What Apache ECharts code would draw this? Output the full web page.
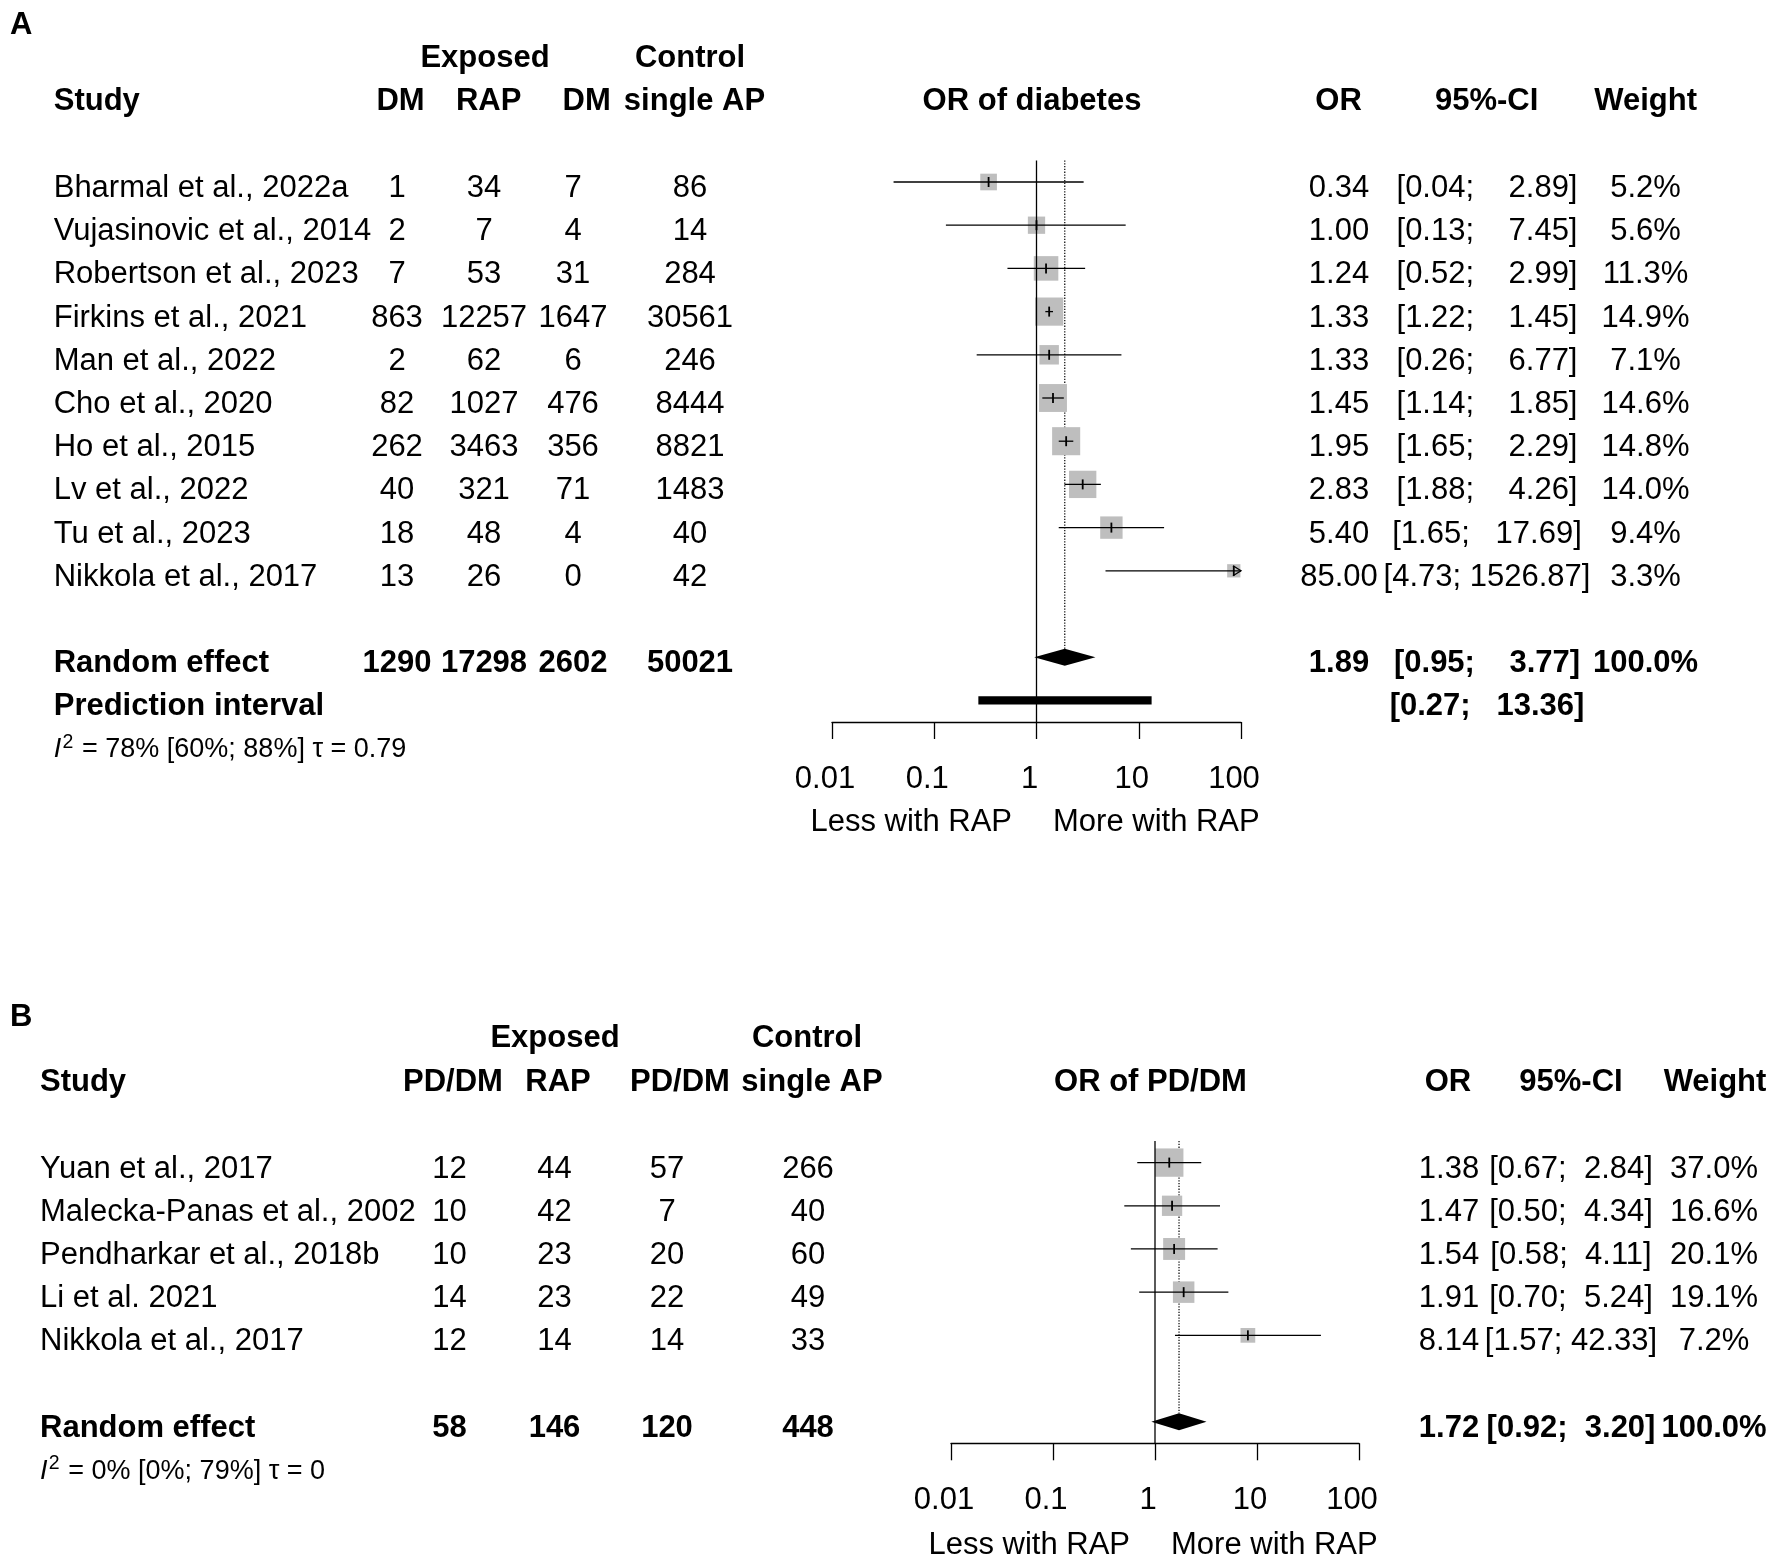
<!DOCTYPE html>
<html><head><meta charset="utf-8">
<script src="https://cdn.jsdelivr.net/npm/echarts@6/dist/echarts.min.js"></script>
<style>html,body{margin:0;padding:0;background:#fff}#c{width:1772px;height:1558px}</style>
</head><body><div id="c"></div>
<script>
// ---------------- DATA (panel A: diabetes) ----------------
const studiesA = ['Bharmal et al., 2022a','Vujasinovic et al., 2014','Robertson et al., 2023','Firkins et al., 2021','Man et al., 2022','Cho et al., 2020','Ho et al., 2015','Lv et al., 2022','Tu et al., 2023','Nikkola et al., 2017'];
const expEventsA = [1, 2, 7, 863, 2, 82, 262, 40, 18, 13];
const expTotalA  = [34, 7, 53, 12257, 62, 1027, 3463, 321, 48, 26];
const ctrlEventsA = [7, 4, 31, 1647, 6, 476, 356, 71, 4, 0];
const ctrlTotalA  = [86, 14, 284, 30561, 246, 8444, 8821, 1483, 40, 42];
const orA = [0.34, 1.00, 1.24, 1.33, 1.33, 1.45, 1.95, 2.83, 5.40, 85.00];
const loA = [0.04, 0.13, 0.52, 1.22, 0.26, 1.14, 1.65, 1.88, 1.65, 4.73];
const hiA = [2.89, 7.45, 2.99, 1.45, 6.77, 1.85, 2.29, 4.26, 17.69, 1526.87];
const weightA = [5.2, 5.6, 11.3, 14.9, 7.1, 14.6, 14.8, 14.0, 9.4, 3.3];
const pooledA = [1.89, 0.95, 3.77];
const totalsA = [1290, 17298, 2602, 50021];
const predA = [0.27, 13.36];
const hetA = ' = 78% [60%; 88%] \u03c4 = 0.79';

// ---------------- DATA (panel B: PD/DM) ----------------
const studiesB = ['Yuan et al., 2017','Malecka-Panas et al., 2002','Pendharkar et al., 2018b','Li et al. 2021','Nikkola et al., 2017'];
const expEventsB = [12, 10, 10, 14, 12];
const expTotalB  = [44, 42, 23, 23, 14];
const ctrlEventsB = [57, 7, 20, 22, 14];
const ctrlTotalB  = [266, 40, 60, 49, 33];
const orB = [1.38, 1.47, 1.54, 1.91, 8.14];
const loB = [0.67, 0.50, 0.58, 0.70, 1.57];
const hiB = [2.84, 4.34, 4.11, 5.24, 42.33];
const weightB = [37.0, 16.6, 20.1, 19.1, 7.2];
const pooledB = [1.72, 0.92, 3.20];
const totalsB = [58, 146, 120, 448];
const hetB = ' = 0% [0%; 79%] \u03c4 = 0';

const tickLabels = ['0.01', '0.1', '1', '10', '100'];
const headA = ['Study', 'DM', 'RAP', 'DM', 'single AP', 'OR of diabetes', 'OR', '95%-CI', 'Weight'];
const headB = ['Study', 'PD/DM', 'RAP', 'PD/DM', 'single AP', 'OR of PD/DM', 'OR', '95%-CI', 'Weight'];
const groupHead = ['Exposed', 'Control'];
const sideLabels = ['Less with RAP', 'More with RAP'];

// ---------------- STYLE / LAYOUT ----------------
const FF = '"Liberation Sans", Arial, Helvetica, sans-serif';
const FS = 31;
const fReg = FS + 'px ' + FF, fBold = 'bold ' + FS + 'px ' + FF;
const XMIN = 0.01, XMAX = 100;
const DY = 3; // text baseline nudge

function T(s, x, y, align, bold, font) {
  return {type: 'text', silent: true, style: {text: String(s), x: x, y: y + DY, font: font || (bold ? fBold : fReg), fill: '#000',
    align: align, verticalAlign: 'middle', textAlign: align, textVerticalAlign: 'middle'}};
}
const f2 = v => v.toFixed(2);
function ciText(lo, hi, width) { let h = f2(hi); while (h.length < width) h = ' ' + h; return '[' + f2(lo) + '; ' + h + ']'; }

const layoutA = {grid: {left: 832, top: 160.4, width: 409, height: 561.6}, maxRow: 12.5, studyX: 53.7,
  cols: [397, 484, 573, 690], orX: 1339, ciX: 1487, wX: 1645.5, sizeA: 0, sizeB: 7.3, ciW: 7};
const layoutB = {grid: {left: 951, top: 1141, width: 408, height: 302.3}, maxRow: 6.5, studyX: 40,
  cols: [449.5, 554.5, 667, 808], orX: 1449, ciX: 1571, wX: 1714, sizeA: 4, sizeB: 4, ciW: 5};

function buildRows(L, studies, e1, n1, e2, n2, or, lo, hi, w, pooled, totals, pred) {
  const rows = [];
  studies.forEach((s, i) => {
    rows.push({row: i, cells: [
      [s, L.studyX, 'left', false], [e1[i], L.cols[0], 'center', false], [n1[i], L.cols[1], 'center', false],
      [e2[i], L.cols[2], 'center', false], [n2[i], L.cols[3], 'center', false],
      [f2(or[i]), L.orX, 'center', false], [ciText(lo[i], hi[i], L.ciW), L.ciX, 'center', false],
      [w[i].toFixed(1) + '%', L.wX, 'center', false]]});
  });
  const pr = studies.length + 1;
  const tw = w.reduce((a, b) => a + b, 0);
  rows.push({row: pr, cells: [
    ['Random effect', L.studyX, 'left', true], [totals[0], L.cols[0], 'center', true], [totals[1], L.cols[1], 'center', true],
    [totals[2], L.cols[2], 'center', true], [totals[3], L.cols[3], 'center', true],
    [f2(pooled[0]), L.orX, 'center', true], [ciText(pooled[1], pooled[2], L.ciW), L.ciX, 'center', true],
    [(Math.round(tw / 10) * 10).toFixed(1) + '%', L.wX, 'center', true]]});
  if (pred) {
    rows.push({row: pr + 1, cells: [['Prediction interval', L.studyX, 'left', true], [ciText(pred[0], pred[1], L.ciW), L.ciX, 'center', true]]});
  }
  return rows;
}

function panelSeries(idx, L, rows, or, lo, hi, w, pooled, pred) {
  const n = or.length;
  const pRow = n + 1;
  const base = {type: 'custom', xAxisIndex: idx, yAxisIndex: idx, silent: true, animation: false, clip: false};
  const studyData = or.map((v, i) => [v, i]);
  return [
    // dotted line at pooled estimate
    Object.assign({}, base, {data: [[pooled[0], -0.5]], renderItem: (p, api) => {
      const top = api.coord([pooled[0], -0.5]); const bot = api.coord([pooled[0], pRow]);
      return {type: 'line', shape: {x1: top[0], y1: top[1], x2: bot[0], y2: bot[1] - 8.5},
        style: {stroke: '#000', lineWidth: 1.2, lineDash: [1.3, 1.5]}};
    }}),
    // squares
    Object.assign({}, base, {data: studyData, renderItem: (p, api) => {
      const i = p.dataIndex; const c = api.coord([Math.min(or[i], XMAX), i]);
      const s = L.sizeA + L.sizeB * Math.sqrt(w[i]);
      return {type: 'rect', shape: {x: c[0] - s / 2, y: c[1] - s / 2, width: s, height: s}, style: {fill: '#BEBEBE'}};
    }}),
    // solid reference line at 1
    Object.assign({}, base, {data: [[1, -0.5]], renderItem: (p, api) => {
      const top = api.coord([1, -0.5]); const bot = api.coord([1, L.maxRow]);
      return {type: 'line', shape: {x1: top[0], y1: top[1], x2: bot[0], y2: bot[1]}, style: {stroke: '#000', lineWidth: 1.3}};
    }}),
    // CI lines + estimate ticks
    Object.assign({}, base, {data: studyData, renderItem: (p, api) => {
      const i = p.dataIndex;
      const cO = api.coord([Math.min(or[i], XMAX), i]);
      const cL = api.coord([Math.max(lo[i], XMIN), i]);
      const cH = api.coord([Math.min(hi[i], XMAX), i]);
      const y = cO[1];
      const ch = [
        {type: 'line', shape: {x1: cL[0], y1: y, x2: cH[0], y2: y}, style: {stroke: '#000', lineWidth: 1.3}},
        {type: 'line', shape: {x1: cO[0], y1: y - 5, x2: cO[0], y2: y + 5}, style: {stroke: '#000', lineWidth: 1.8}}
      ];
      if (hi[i] > XMAX) ch.push({type: 'polyline', shape: {points: [[cH[0] - 8, y - 5], [cH[0], y], [cH[0] - 8, y + 5]]},
        style: {stroke: '#000', fill: null, lineWidth: 1.3}});
      return {type: 'group', children: ch};
    }}),
    // diamond
    Object.assign({}, base, {data: [[pooled[0], pRow]], renderItem: (p, api) => {
      const c = api.coord([pooled[0], pRow]); const l = api.coord([pooled[1], pRow]); const r = api.coord([pooled[2], pRow]);
      return {type: 'polygon', shape: {points: [[l[0], c[1]], [c[0], c[1] - 8.5], [r[0], c[1]], [c[0], c[1] + 8.5]]}, style: {fill: '#000'}};
    }}),
    // prediction interval
    Object.assign({}, base, {data: pred ? [[pred[0], pRow + 1]] : [], renderItem: (p, api) => {
      const l = api.coord([pred[0], pRow + 1]); const r = api.coord([pred[1], pRow + 1]);
      return {type: 'rect', shape: {x: l[0], y: l[1] - 4.2, width: r[0] - l[0], height: 8.4}, style: {fill: '#000'}};
    }}),
    // table text
    Object.assign({}, base, {data: rows.map(r => [1, r.row]), renderItem: (p, api) => {
      const r = rows[p.dataIndex]; const y = api.coord([1, r.row])[1] + 3.5;
      return {type: 'group', children: r.cells.map(c => T(c[0], c[1], y, c[2], c[3]))};
    }})
  ];
}

const rowsA = buildRows(layoutA, studiesA, expEventsA, expTotalA, ctrlEventsA, ctrlTotalA, orA, loA, hiA, weightA, pooledA, totalsA, predA);
const rowsB = buildRows(layoutB, studiesB, expEventsB, expTotalB, ctrlEventsB, ctrlTotalB, orB, loB, hiB, weightB, pooledB, totalsB, null);

function xAxis(gi) {
  return {type: 'log', logBase: 10, gridIndex: gi, min: XMIN, max: XMAX, splitNumber: 4, position: 'bottom',
    axisLine: {show: true, onZero: false, lineStyle: {color: '#000', width: 1.3}},
    axisTick: {show: true, length: 17, inside: false, lineStyle: {color: '#000', width: 1.3}},
    minorTick: {show: false}, splitLine: {show: false},
    axisLabel: {show: true, color: '#000', fontSize: FS, fontFamily: FF, margin: 42, showMinLabel: true, showMaxLabel: true,
      padding: [0, 14, 0, 0], hideOverlap: false,
      formatter: v => tickLabels[Math.round(Math.log10(v)) + 2]}};
}
function yAxis(gi, maxRow) { return {type: 'value', gridIndex: gi, inverse: true, min: -0.5, max: maxRow, show: false}; }

function headerGraphics() {
  const g = [];
  const hf = '27px ' + FF, hfi = 'italic 27px ' + FF, sf = '19.5px ' + FF;
  // Panel A
  g.push(T('A', 10, 22, 'left', true));
  g.push(T(groupHead[0], 485, 55.7, 'center', true), T(groupHead[1], 690, 55.7, 'center', true));
  const yA = 98;
  g.push(T(headA[0], 53.7, yA, 'left', true), T(headA[1], 400.5, yA, 'center', true), T(headA[2], 488.7, yA, 'center', true),
    T(headA[3], 586.6, yA, 'center', true), T(headA[4], 694.5, yA, 'center', true), T(headA[5], 1032, yA, 'center', true),
    T(headA[6], 1338.6, yA, 'center', true), T(headA[7], 1486.6, yA, 'center', true), T(headA[8], 1645.6, yA, 'center', true));
  g.push(T(sideLabels[0], 1012, 819, 'right', false), T(sideLabels[1], 1053, 819, 'left', false));
  g.push(T('I', 53.7, 746.5, 'left', false, hfi), T('2', 62.5, 739.5, 'left', false, sf),
    T(hetA, 74.5, 746.5, 'left', false, hf));
  // Panel B
  g.push(T('B', 10, 1014, 'left', true));
  g.push(T(groupHead[0], 555, 1035, 'center', true), T(groupHead[1], 807, 1035, 'center', true));
  const yB = 1079.5;
  g.push(T(headB[0], 40, yB, 'left', true), T(headB[1], 453, yB, 'center', true), T(headB[2], 558, yB, 'center', true),
    T(headB[3], 680, yB, 'center', true), T(headB[4], 812, yB, 'center', true), T(headB[5], 1150.5, yB, 'center', true),
    T(headB[6], 1448, yB, 'center', true), T(headB[7], 1571, yB, 'center', true), T(headB[8], 1715, yB, 'center', true));
  g.push(T(sideLabels[0], 1130, 1542, 'right', false), T(sideLabels[1], 1171, 1542, 'left', false));
  g.push(T('I', 40, 1468.4, 'left', false, hfi), T('2', 48.8, 1461, 'left', false, sf),
    T(hetB, 60.8, 1468.4, 'left', false, hf));
  return g;
}

const chart = echarts.init(document.getElementById('c'), null, {renderer: 'canvas', width: 1772, height: 1558});
chart.setOption({
  backgroundColor: '#ffffff',
  animation: false,
  grid: [Object.assign({outerBoundsMode: 'none', containLabel: false}, layoutA.grid),
         Object.assign({outerBoundsMode: 'none', containLabel: false}, layoutB.grid)],
  xAxis: [xAxis(0), xAxis(1)],
  yAxis: [yAxis(0, layoutA.maxRow), yAxis(1, layoutB.maxRow)],
  series: panelSeries(0, layoutA, rowsA, orA, loA, hiA, weightA, pooledA, predA)
    .concat(panelSeries(1, layoutB, rowsB, orB, loB, hiB, weightB, pooledB, null)),
  graphic: headerGraphics()
});
</script></body></html>
